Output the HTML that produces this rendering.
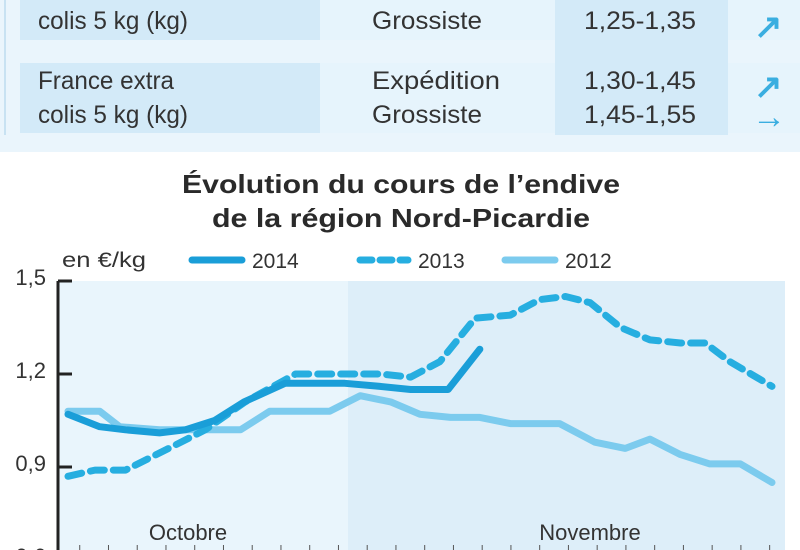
<!DOCTYPE html>
<html><head><meta charset="utf-8"><style>
body{margin:0;width:800px;height:550px;overflow:hidden;background:#fff;font-family:"Liberation Sans",sans-serif;}
svg{display:block}
</style></head><body>
<svg width="800" height="550" viewBox="0 0 800 550">
<g>
<rect x="0" y="0" width="800" height="152" fill="#eaf5fc"/>
<rect x="4" y="0" width="2" height="135" fill="#c8e2f2"/>
<rect x="20" y="0" width="300" height="40" fill="#d3eaf8"/>
<rect x="320" y="0" width="235" height="40" fill="#e6f4fc"/>
<rect x="555" y="0" width="173" height="135" fill="#d3eaf8"/>
<rect x="728" y="0" width="72" height="40" fill="#e6f4fc"/>
<rect x="20" y="63" width="300" height="70" fill="#d3eaf8"/>
<rect x="320" y="63" width="235" height="70" fill="#e6f4fc"/>
<rect x="728" y="63" width="72" height="70" fill="#e6f4fc"/>
<g font-size="25" fill="#333" font-family="Liberation Sans, sans-serif">
<text x="38" y="29" textLength="150" lengthAdjust="spacingAndGlyphs">colis 5 kg (kg)</text>
<text x="372" y="29" textLength="110" lengthAdjust="spacingAndGlyphs">Grossiste</text>
<text x="584" y="29" textLength="112" lengthAdjust="spacingAndGlyphs">1,25-1,35</text>
<text x="38" y="89" textLength="136" lengthAdjust="spacingAndGlyphs">France extra</text>
<text x="38" y="123" textLength="150" lengthAdjust="spacingAndGlyphs">colis 5 kg (kg)</text>
<text x="372" y="89" textLength="128" lengthAdjust="spacingAndGlyphs">Expédition</text>
<text x="372" y="123" textLength="110" lengthAdjust="spacingAndGlyphs">Grossiste</text>
<text x="584" y="89" textLength="112" lengthAdjust="spacingAndGlyphs">1,30-1,45</text>
<text x="584" y="123" textLength="112" lengthAdjust="spacingAndGlyphs">1,45-1,55</text>
</g>
<g fill="#3aaee0" font-size="34" font-weight="bold">
<text x="754" y="38">↗</text>
<text x="754" y="98">↗</text>
<text x="752" y="128">→</text>
</g>
</g>
<g font-weight="bold" font-size="26" fill="#2a2a2a" font-family="Liberation Sans, sans-serif">
<text x="182" y="193" textLength="438" lengthAdjust="spacingAndGlyphs">Évolution du cours de l’endive</text>
<text x="212" y="227" textLength="378" lengthAdjust="spacingAndGlyphs">de la région Nord-Picardie</text>
</g>
<rect x="58" y="281" width="290" height="269" fill="#e9f5fc"/>
<rect x="348" y="281" width="437" height="269" fill="#ddeef9"/>
<g font-size="21" fill="#333" font-family="Liberation Sans, sans-serif">
<text x="62" y="267" textLength="84" lengthAdjust="spacingAndGlyphs">en €/kg</text>
<line x1="192" y1="260" x2="242" y2="260" stroke="#1a9ed8" stroke-width="7" stroke-linecap="round"/>
<text x="252" y="268">2014</text>
<line x1="360" y1="260" x2="408" y2="260" stroke="#26aee0" stroke-width="7" stroke-dasharray="12,8" stroke-linecap="round"/>
<text x="418" y="268">2013</text>
<line x1="505" y1="260" x2="555" y2="260" stroke="#7ccbee" stroke-width="7" stroke-linecap="round"/>
<text x="565" y="268">2012</text>
</g>
<g id="axes"></g>
<g id="series"></g>
<text x="188" y="540" font-size="22" fill="#333" text-anchor="middle" font-family="Liberation Sans, sans-serif">Octobre</text>
<text x="590" y="540" font-size="22" fill="#333" text-anchor="middle" font-family="Liberation Sans, sans-serif">Novembre</text>
</svg>
<script>
const yTicks = [1.5, 1.2, 0.9, 0.6];
const yTickLabels = ["1,5", "1,2", "0,9", "0,6"];
const x2014 = [0,2.7,4.9,7.8,10,12.5,15,18.5,23.6,26.6,29.2,32.4,35.1];
const v2014 = [1.07,1.03,1.02,1.01,1.02,1.05,1.11,1.17,1.17,1.16,1.15,1.15,1.28];
const x2013 = [0,2.3,4.9,9.1,11.7,15.1,19.4,26.6,29.2,31.7,34.7,37.7,40.2,42.4,44.5,47.1,49.6,52.2,54.3,56.4,60];
const v2013 = [0.87,0.89,0.89,0.97,1.02,1.11,1.2,1.2,1.19,1.24,1.38,1.39,1.44,1.45,1.43,1.35,1.31,1.30,1.30,1.24,1.16];
const x2012 = [0,2.7,4.4,7.8,14.7,17.2,22.3,24.9,27.5,30,32.6,35.1,37.7,41.9,44.9,47.5,49.6,52.2,54.7,57.3,60];
const v2012 = [1.08,1.08,1.03,1.02,1.02,1.08,1.08,1.13,1.11,1.07,1.06,1.06,1.04,1.04,0.98,0.96,0.99,0.94,0.91,0.91,0.85];
const NS="http://www.w3.org/2000/svg";
const xS = d => 68 + d*(772-68)/60;
const yS = v => 281 + (1.5 - v)*(93/0.3);
const axes=document.getElementById('axes');
const ax=document.createElementNS(NS,'line');
ax.setAttribute('x1',58);ax.setAttribute('x2',58);ax.setAttribute('y1',281);ax.setAttribute('y2',550);
ax.setAttribute('stroke','#222');ax.setAttribute('stroke-width',3);


axes.appendChild(ax);
yTicks.forEach((t,i)=>{
  const tk=document.createElementNS(NS,'line');
  tk.setAttribute('x1',58);tk.setAttribute('x2',72);tk.setAttribute('y1',yS(t));tk.setAttribute('y2',yS(t));
  tk.setAttribute('stroke','#222');tk.setAttribute('stroke-width',3);
  
  
  axes.appendChild(tk);
  const tx=document.createElementNS(NS,'text');
  tx.setAttribute('x',46);tx.setAttribute('y',yS(t)+4);tx.setAttribute('text-anchor','end');
  tx.setAttribute('font-size','22');tx.setAttribute('fill','#333');
  tx.setAttribute('font-family','Liberation Sans, sans-serif');
  tx.textContent=yTickLabels[i];
  
  
  axes.appendChild(tx);
});
for(let d=1;d<=60;d+=2.45){
  const m=document.createElementNS(NS,'line');
  m.setAttribute('x1',xS(d));m.setAttribute('x2',xS(d));m.setAttribute('y1',545);m.setAttribute('y2',550);
  m.setAttribute('stroke','#555');m.setAttribute('stroke-width',1);
  
  
  axes.appendChild(m);
}
const series=document.getElementById('series');
function draw(xs,vs,color,dash,name){
  const p=document.createElementNS(NS,'polyline');
  p.setAttribute('points',xs.map((d,i)=>xS(d)+','+yS(vs[i])).join(' '));
  p.setAttribute('fill','none');p.setAttribute('stroke',color);p.setAttribute('stroke-width',7);
  p.setAttribute('stroke-linejoin','round');p.setAttribute('stroke-linecap','round');
  if(dash)p.setAttribute('stroke-dasharray',dash);
  
  
  series.appendChild(p);
}
draw(x2012,v2012,'#7ccbee',null,'line-2012');
draw(x2013,v2013,'#26aee0','14,9','line-2013');
draw(x2014,v2014,'#1a9ed8',null,'line-2014');
</script>
</body></html>
